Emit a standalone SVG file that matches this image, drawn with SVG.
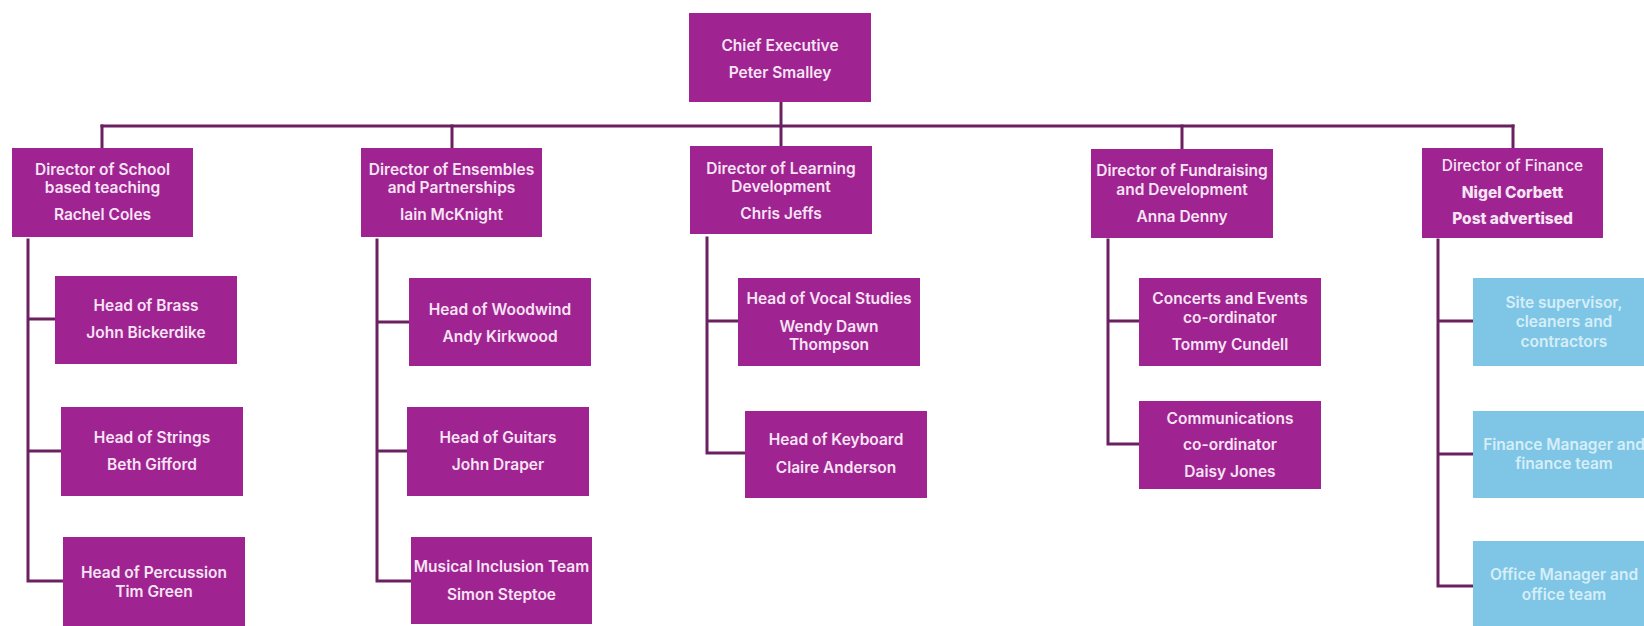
<svg xmlns="http://www.w3.org/2000/svg" width="1644" height="626" viewBox="0 0 1644 626">
  <style>
    .box { fill: #9f2390; }
    .svc { fill: #7fc6e6; }
    .t { font-family: Inter, "Liberation Sans", sans-serif; font-size: 15.5px; font-weight: 600; fill: #f7e4f5; text-anchor: middle; }
    .tb { fill: #d6eef8; }
    .reg { font-weight: 500; }
    .bold { font-weight: 800; }
    .ln { stroke: #6b2060; stroke-width: 3; fill: none; stroke-linecap: square; }
  </style>
  <rect width="1644" height="626" fill="#ffffff"/>

  <!-- connectors -->
  <g id="connectors" class="ln">
    <path d="M781 102 V146"/>
    <path d="M102 126 H1513"/>
    <path d="M102 126 V148 M452 126 V148 M1182 126 V149 M1513 126 V148"/>
    <!-- School based teaching -->
    <path d="M28 240 V581 H63 M28 319 H55 M28 451 H61"/>
    <!-- Ensembles and Partnerships -->
    <path d="M377 240 V581 H411 M377 322 H409 M377 451 H407"/>
    <!-- Learning Development -->
    <path d="M707 238 V453 H745 M707 321 H738"/>
    <!-- Fundraising and Development -->
    <path d="M1108 240 V444 H1139 M1108 321 H1139"/>
    <!-- Finance -->
    <path d="M1438 240 V586 H1473 M1438 321 H1473 M1438 454 H1473"/>
  </g>

  <g id="chief-executive">
    <rect class="box" x="689" y="13" width="182" height="89"/>
    <text class="t" x="780" y="51">Chief Executive</text>
    <text class="t" x="780" y="78">Peter Smalley</text>
  </g>

  <g id="dir-school">
    <rect class="box" x="12" y="148" width="181" height="89"/>
    <text class="t" x="102.5" y="175">Director of School</text>
    <text class="t" x="102.5" y="193">based teaching</text>
    <text class="t" x="102.5" y="220">Rachel Coles</text>
  </g>

  <g id="dir-ensembles">
    <rect class="box" x="361" y="148" width="181" height="89"/>
    <text class="t" x="451.5" y="175">Director of Ensembles</text>
    <text class="t" x="451.5" y="193">and Partnerships</text>
    <text class="t" x="451.5" y="220">Iain McKnight</text>
  </g>

  <g id="dir-learning">
    <rect class="box" x="690" y="146" width="182" height="88"/>
    <text class="t" x="781" y="174">Director of Learning</text>
    <text class="t" x="781" y="192">Development</text>
    <text class="t" x="781" y="219">Chris Jeffs</text>
  </g>

  <g id="dir-fundraising">
    <rect class="box" x="1091" y="149" width="182" height="89"/>
    <text class="t" x="1182" y="176">Director of Fundraising</text>
    <text class="t" x="1182" y="195">and Development</text>
    <text class="t" x="1182" y="222">Anna Denny</text>
  </g>

  <g id="dir-finance">
    <rect class="box" x="1422" y="148" width="181" height="90"/>
    <text class="t reg" x="1512.5" y="171">Director of Finance</text>
    <text class="t bold" x="1512.5" y="198">Nigel Corbett</text>
    <text class="t bold" x="1512.5" y="224">Post advertised</text>
  </g>

  <g id="head-brass">
    <rect class="box" x="55" y="276" width="182" height="88"/>
    <text class="t" x="146" y="311">Head of Brass</text>
    <text class="t" x="146" y="338">John Bickerdike</text>
  </g>

  <g id="head-strings">
    <rect class="box" x="61" y="407" width="182" height="89"/>
    <text class="t" x="152" y="443">Head of Strings</text>
    <text class="t" x="152" y="470">Beth Gifford</text>
  </g>

  <g id="head-percussion">
    <rect class="box" x="63" y="537" width="182" height="95"/>
    <text class="t" x="154" y="578">Head of Percussion</text>
    <text class="t" x="154" y="597">Tim Green</text>
  </g>

  <g id="head-woodwind">
    <rect class="box" x="409" y="278" width="182" height="88"/>
    <text class="t" x="500" y="315">Head of Woodwind</text>
    <text class="t" x="500" y="342">Andy Kirkwood</text>
  </g>

  <g id="head-guitars">
    <rect class="box" x="407" y="407" width="182" height="89"/>
    <text class="t" x="498" y="443">Head of Guitars</text>
    <text class="t" x="498" y="470">John Draper</text>
  </g>

  <g id="musical-inclusion">
    <rect class="box" x="411" y="537" width="181" height="87"/>
    <text class="t" x="501.5" y="572">Musical Inclusion Team</text>
    <text class="t" x="501.5" y="600">Simon Steptoe</text>
  </g>

  <g id="head-vocal">
    <rect class="box" x="738" y="278" width="182" height="88"/>
    <text class="t" x="829" y="304">Head of Vocal Studies</text>
    <text class="t" x="829" y="332">Wendy Dawn</text>
    <text class="t" x="829" y="350">Thompson</text>
  </g>

  <g id="head-keyboard">
    <rect class="box" x="745" y="411" width="182" height="87"/>
    <text class="t" x="836" y="445">Head of Keyboard</text>
    <text class="t" x="836" y="473">Claire Anderson</text>
  </g>

  <g id="concerts-events">
    <rect class="box" x="1139" y="278" width="182" height="88"/>
    <text class="t" x="1230" y="304">Concerts and Events</text>
    <text class="t" x="1230" y="323">co-ordinator</text>
    <text class="t" x="1230" y="350">Tommy Cundell</text>
  </g>

  <g id="communications">
    <rect class="box" x="1139" y="401" width="182" height="88"/>
    <text class="t" x="1230" y="424">Communications</text>
    <text class="t" x="1230" y="450">co-ordinator</text>
    <text class="t" x="1230" y="477">Daisy Jones</text>
  </g>

  <g id="site-supervisor">
    <rect class="svc" x="1473" y="278" width="182" height="88"/>
    <text class="t tb" x="1564" y="308">Site supervisor,</text>
    <text class="t tb" x="1564" y="327">cleaners and</text>
    <text class="t tb" x="1564" y="347">contractors</text>
  </g>

  <g id="finance-manager">
    <rect class="svc" x="1473" y="411" width="182" height="87"/>
    <text class="t tb" x="1564" y="450">Finance Manager and</text>
    <text class="t tb" x="1564" y="469">finance team</text>
  </g>

  <g id="office-manager">
    <rect class="svc" x="1473" y="541" width="182" height="90"/>
    <text class="t tb" x="1564" y="580">Office Manager and</text>
    <text class="t tb" x="1564" y="600">office team</text>
  </g>
</svg>
